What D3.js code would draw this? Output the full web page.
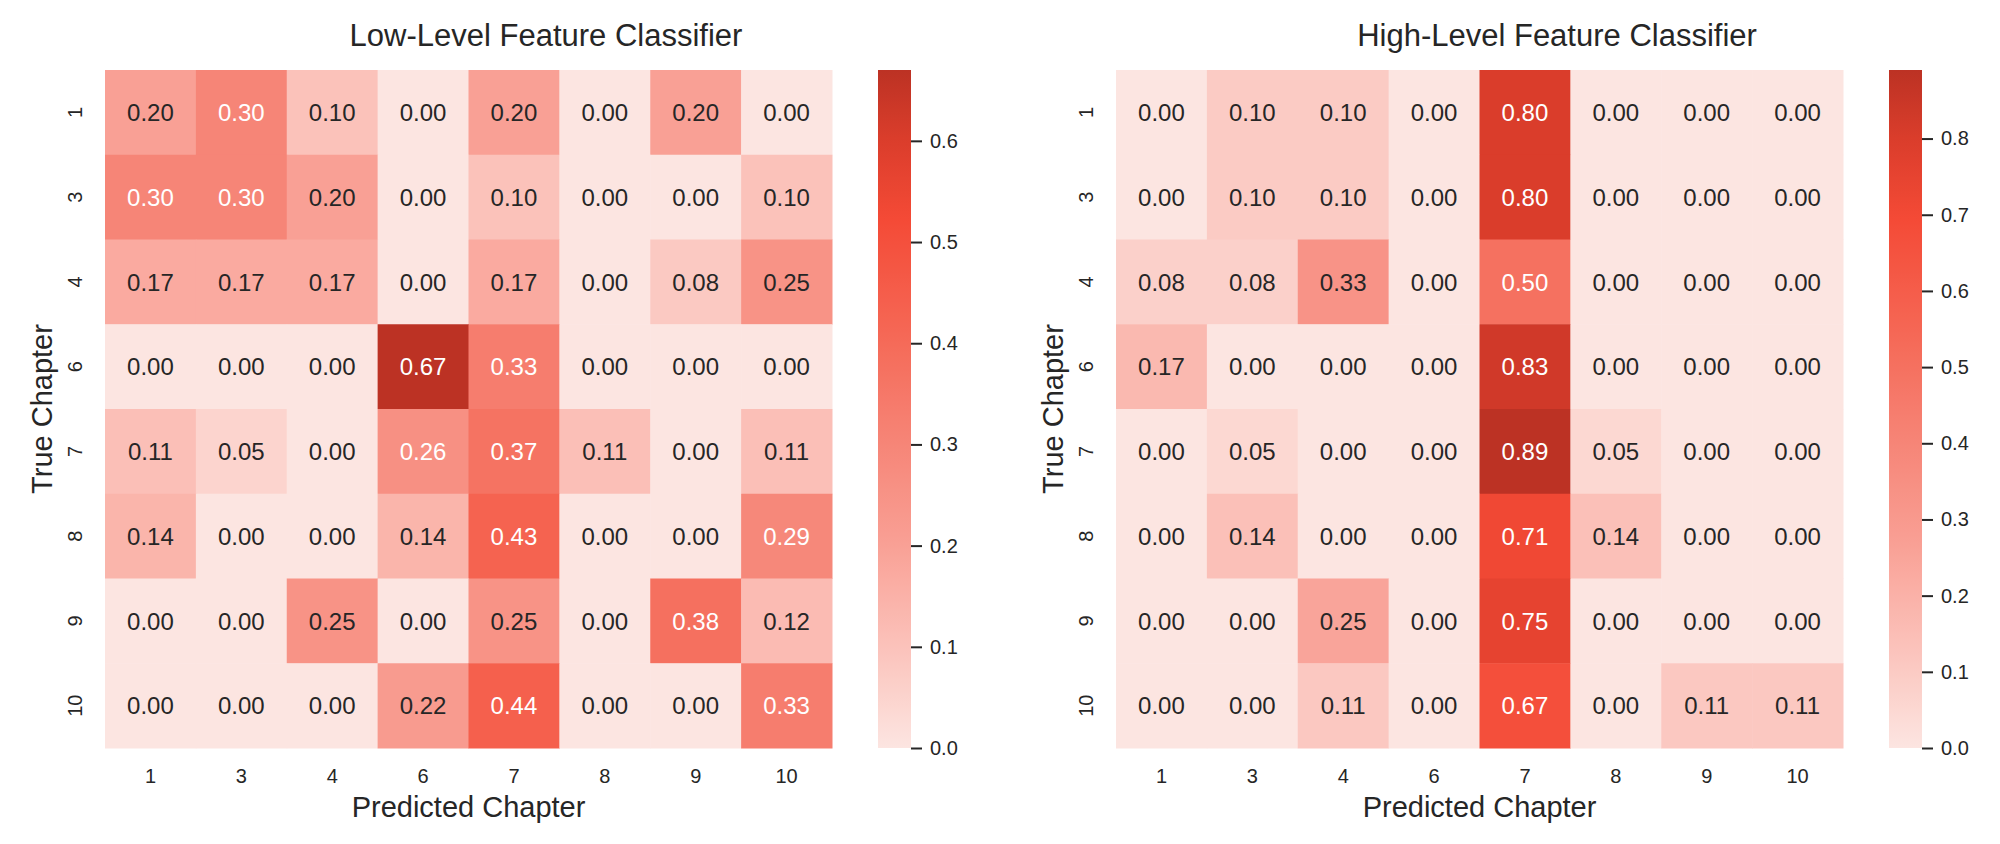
<!DOCTYPE html>
<html>
<head>
<meta charset="utf-8">
<script src="https://cdn.jsdelivr.net/npm/d3@7"></script>
<style>
    body { margin: 0; background: #fff; }
    text { font-family: "Liberation Sans", Arial, sans-serif; fill: #262626; }
</style>
</head>
<body>
<div id="chart"></div>
<script>

// chapter labels (rows = true, columns = predicted)
const chapters = ["1", "3", "4", "6", "7", "8", "9", "10"];

// low-level feature classifier, row-normalised confusion matrix
const lowLevel = [
    [0.20, 0.30, 0.10, 0.00, 0.20, 0.00, 0.20, 0.00],
    [0.30, 0.30, 0.20, 0.00, 0.10, 0.00, 0.00, 0.10],
    [0.17, 0.17, 0.17, 0.00, 0.17, 0.00, 0.08, 0.25],
    [0.00, 0.00, 0.00, 0.67, 0.33, 0.00, 0.00, 0.00],
    [0.11, 0.05, 0.00, 0.26, 0.37, 0.11, 0.00, 0.11],
    [0.14, 0.00, 0.00, 0.14, 0.43, 0.00, 0.00, 0.29],
    [0.00, 0.00, 0.25, 0.00, 0.25, 0.00, 0.38, 0.12],
    [0.00, 0.00, 0.00, 0.22, 0.44, 0.00, 0.00, 0.33]
];

// high-level feature classifier
const highLevel = [
    [0.00, 0.10, 0.10, 0.00, 0.80, 0.00, 0.00, 0.00],
    [0.00, 0.10, 0.10, 0.00, 0.80, 0.00, 0.00, 0.00],
    [0.08, 0.08, 0.33, 0.00, 0.50, 0.00, 0.00, 0.00],
    [0.17, 0.00, 0.00, 0.00, 0.83, 0.00, 0.00, 0.00],
    [0.00, 0.05, 0.00, 0.00, 0.89, 0.05, 0.00, 0.00],
    [0.00, 0.14, 0.00, 0.00, 0.71, 0.14, 0.00, 0.00],
    [0.00, 0.00, 0.25, 0.00, 0.75, 0.00, 0.00, 0.00],
    [0.00, 0.00, 0.11, 0.00, 0.67, 0.00, 0.11, 0.11]
];

const lowTicks = [0.0, 0.1, 0.2, 0.3, 0.4, 0.5, 0.6];
const highTicks = [0.0, 0.1, 0.2, 0.3, 0.4, 0.5, 0.6, 0.7, 0.8];

// colormap stops (fraction of vmax -> colour)
const cmapStops = [0, 0.15, 0.30, 0.45, 0.60, 0.78, 0.90, 1];
const cmapColors = ["#fce5e1", "#fbc2ba", "#f9a095", "#f68577", "#f56a58", "#f44a36", "#da3d2b", "#bc3224"];


class HeatmapVis {

    constructor(svg, left, title, matrix, ticks) {
        this.svg = svg;
        this.left = left;
        this.title = title;
        this.matrix = matrix;
        this.ticks = ticks;

        this.initVis();
    }

    initVis() {
        let vis = this;

        vis.top = 70;
        vis.width = 727;
        vis.height = 678;

        vis.g = vis.svg.append("g")
            .attr("transform", `translate(${vis.left},${vis.top})`);

        vis.x = d3.scaleBand().domain(chapters).range([0, vis.width]);
        vis.y = d3.scaleBand().domain(chapters).range([0, vis.height]);

        vis.vmax = d3.max(vis.matrix, row => d3.max(row));

        vis.color = d3.scaleLinear()
            .domain(cmapStops.map(s => s * vis.vmax))
            .range(cmapColors)
            .clamp(true);

        vis.cells = [];
        vis.matrix.forEach((row, i) => {
            row.forEach((v, j) => {
                vis.cells.push({row: chapters[i], col: chapters[j], value: v});
            });
        });

        vis.drawCells();
        vis.drawAxes();
        vis.drawColorbar();
    }

    drawCells() {
        let vis = this;

        vis.g.selectAll(".cell")
            .data(vis.cells)
            .enter().append("rect")
            .attr("class", "cell")
            .attr("x", d => vis.x(d.col))
            .attr("y", d => vis.y(d.row))
            .attr("width", vis.x.bandwidth() + 0.5)
            .attr("height", vis.y.bandwidth() + 0.5)
            .attr("fill", d => vis.color(d.value));

        vis.g.selectAll(".annot")
            .data(vis.cells)
            .enter().append("text")
            .attr("class", "annot")
            .attr("x", d => vis.x(d.col) + vis.x.bandwidth() / 2)
            .attr("y", d => vis.y(d.row) + vis.y.bandwidth() / 2)
            .attr("dy", "0.36em")
            .attr("text-anchor", "middle")
            .style("font-size", "24px")
            // light text on the darker cells
            .style("fill", d => d.value / vis.vmax > 0.38 ? "#ffffff" : "#262626")
            .text(d => d.value.toFixed(2));
    }

    drawAxes() {
        let vis = this;

        // x tick labels
        vis.g.selectAll(".xlab")
            .data(chapters)
            .enter().append("text")
            .attr("class", "xlab")
            .attr("x", d => vis.x(d) + vis.x.bandwidth() / 2)
            .attr("y", vis.height + 35)
            .attr("text-anchor", "middle")
            .style("font-size", "20px")
            .text(d => d);

        // y tick labels, rotated like seaborn does
        vis.g.selectAll(".ylab")
            .data(chapters)
            .enter().append("text")
            .attr("class", "ylab")
            .attr("transform", d => `translate(-23,${vis.y(d) + vis.y.bandwidth() / 2}) rotate(-90)`)
            .attr("text-anchor", "middle")
            .style("font-size", "20px")
            .text(d => d);

        vis.g.append("text")
            .attr("x", vis.width / 2)
            .attr("y", vis.height + 69)
            .attr("text-anchor", "middle")
            .style("font-size", "29px")
            .text("Predicted Chapter");

        vis.g.append("text")
            .attr("transform", `translate(-53,${vis.height / 2}) rotate(-90)`)
            .attr("text-anchor", "middle")
            .style("font-size", "29px")
            .text("True Chapter");

        vis.g.append("text")
            .attr("x", 441)
            .attr("y", -24)
            .attr("text-anchor", "middle")
            .style("font-size", "31px")
            .text(vis.title);
    }

    drawColorbar() {
        let vis = this;

        let cbX = 773, cbW = 33;
        let gradId = "grad" + vis.left;

        vis.cbScale = d3.scaleLinear()
            .domain([0, vis.vmax])
            .range([vis.height, 0]);

        let grad = vis.svg.append("defs").append("linearGradient")
            .attr("id", gradId)
            .attr("x1", "0%").attr("x2", "0%")
            .attr("y1", "100%").attr("y2", "0%");

        grad.selectAll("stop")
            .data(d3.range(0, 1.0001, 0.02))
            .enter().append("stop")
            .attr("offset", d => (d * 100) + "%")
            .attr("stop-color", d => vis.color(d * vis.vmax));

        vis.g.append("rect")
            .attr("x", cbX)
            .attr("y", 0)
            .attr("width", cbW)
            .attr("height", vis.height)
            .attr("fill", `url(#${gradId})`);

        let axis = d3.axisRight(vis.cbScale)
            .tickValues(vis.ticks)
            .tickFormat(d3.format(".1f"))
            .tickSize(11)
            .tickPadding(8);

        let ag = vis.g.append("g")
            .attr("transform", `translate(${cbX + cbW},0)`)
            .call(axis);

        ag.select(".domain").remove();
        ag.selectAll(".tick line")
            .attr("stroke", "#262626")
            .attr("stroke-width", 2);
        ag.selectAll(".tick text")
            .style("font-size", "20px")
            .style("font-family", "'Liberation Sans', Arial, sans-serif")
            .attr("fill", "#262626");
    }
}

let svg = d3.select("#chart").append("svg")
    .attr("width", 2000)
    .attr("height", 844);

new HeatmapVis(svg, 105, "Low-Level Feature Classifier", lowLevel, lowTicks);
new HeatmapVis(svg, 1116, "High-Level Feature Classifier", highLevel, highTicks);

</script>
</body>
</html>
